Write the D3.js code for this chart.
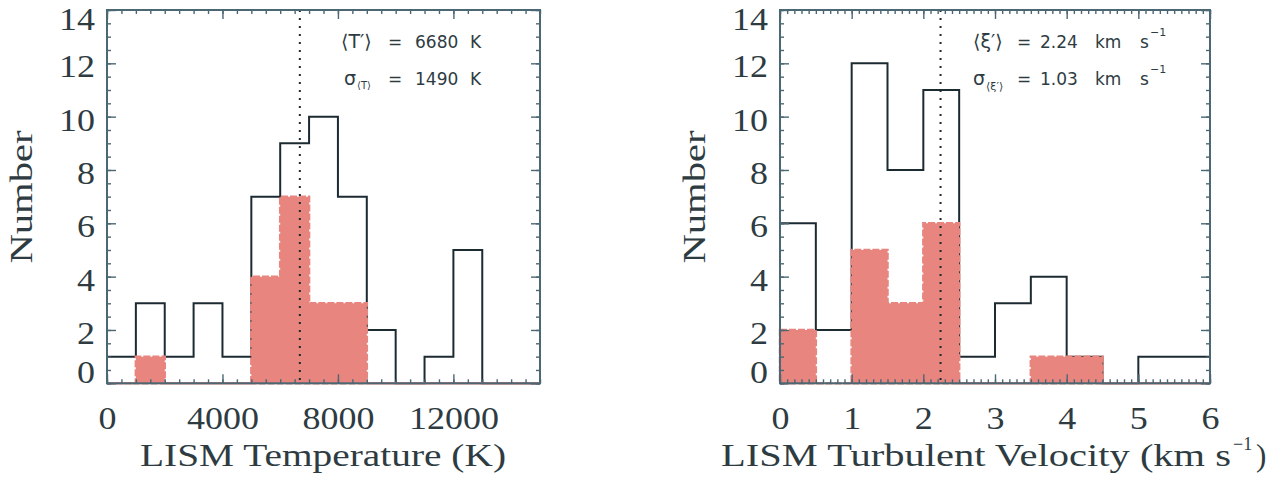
<!DOCTYPE html>
<html>
<head>
<meta charset="utf-8">
<script src="https://cdn.jsdelivr.net/npm/d3@7"></script>
<style>
  html, body { margin: 0; padding: 0; background: #fff; }
  svg { display: block; }
</style>
</head>
<body>
<svg id="chart" width="1278" height="478"></svg>
<script>
// ---------------- DATA ----------------
// Temperature histogram: bin starts (K), bin width 1000 K
const tempBinStarts = [0,1000,2000,3000,4000,5000,6000,7000,8000,9000,10000,11000,12000,13000,14000];
const tempAll      = [1, 3, 1, 3, 1, 7, 9, 10, 7, 2, 0, 1, 5, 0, 0];
const tempSel      = [0, 1, 0, 0, 0, 4, 7, 3, 3, 0, 0, 0, 0, 0, 0];
const tempMean = 6680;
const tempXTicks = [0, 4000, 8000, 12000];

// Turbulent velocity histogram: bin starts (km/s), bin width 0.5
const velBinStarts = [0,0.5,1,1.5,2,2.5,3,3.5,4,4.5,5,5.5];
const velAll       = [6, 2, 12, 8, 11, 1, 3, 4, 1, 0, 1, 1];
const velSel       = [2, 0, 5, 3, 6, 0, 0, 1, 1, 0, 0, 0];
const velMean = 2.24;
const velXTicks = [0, 1, 2, 3, 4, 5, 6];

const yTicks = [0, 2, 4, 6, 8, 10, 12, 14];

// ---------------- STYLE ----------------
const axisColor = "#4b6774";
const histColor = "#1c2a31";
const fillColor = "#e8857e";
const textColor = "#2e3c42";
const serif = "'Liberation Serif', serif";
const sans = "'DejaVu Sans', sans-serif";
const digitW = 18;

const svg = d3.select("#chart");
svg.append("rect").attr("width", 1278).attr("height", 478).attr("fill", "#fff");

function panel(cfg) {
  const x = d3.scaleLinear().domain(cfg.xDomain).range([cfg.left, cfg.right]);
  const y = d3.scaleLinear().domain([0, 14]).range([383.3, 10]);
  const g = svg.append("g");
  const bw = cfg.binWidth;

  // step line for all
  const ptsAll = cfg.starts.map((s, i) => [s, cfg.all[i]]);
  ptsAll.push([cfg.starts[cfg.starts.length - 1] + bw, cfg.all[cfg.all.length - 1]]);
  const line = d3.line().x(d => x(d[0])).y(d => y(d[1])).curve(d3.curveStepAfter);
  g.append("path").attr("d", line(ptsAll)).attr("fill", "none")
    .attr("stroke", histColor).attr("stroke-width", 2);

  // filled subset
  const ptsSel = cfg.starts.map((s, i) => [s, cfg.sel[i]]);
  ptsSel.push([cfg.starts[cfg.starts.length - 1] + bw, cfg.sel[cfg.sel.length - 1]]);
  const area = d3.area().x(d => x(d[0])).y0(y(0)).y1(d => y(d[1])).curve(d3.curveStepAfter);
  g.append("path").attr("d", area(ptsSel)).attr("fill", fillColor)
    .attr("stroke", fillColor).attr("stroke-width", 2.5).attr("stroke-dasharray", "7,2");

  // mean dotted line
  g.append("line").attr("x1", x(cfg.mean)).attr("x2", x(cfg.mean))
    .attr("y1", y(14)).attr("y2", y(0))
    .attr("stroke", histColor).attr("stroke-width", 2).attr("stroke-dasharray", "2,6");

  // ticks (all four sides)
  const tickGroup = (gen, scale, vals, len, tr) => {
    g.append("g").attr("transform", tr)
      .call(gen(scale).tickValues(vals).tickSize(-len).tickFormat(""))
      .call(s => s.select(".domain").remove())
      .call(s => s.selectAll("line").attr("stroke", axisColor).attr("stroke-width", 1.4));
  };
  const yMinor = d3.range(0, 14.01, 0.5);
  tickGroup(d3.axisBottom, x, cfg.xMinor, 4, `translate(0,${y(0)})`);
  tickGroup(d3.axisBottom, x, cfg.xTicks, 9, `translate(0,${y(0)})`);
  tickGroup(d3.axisTop, x, cfg.xMinor, 4, `translate(0,${y(14)})`);
  tickGroup(d3.axisTop, x, cfg.xTicks, 9, `translate(0,${y(14)})`);
  tickGroup(d3.axisLeft, y, yMinor, 4, `translate(${cfg.left},0)`);
  tickGroup(d3.axisLeft, y, yTicks, 9, `translate(${cfg.left},0)`);
  tickGroup(d3.axisRight, y, yMinor, 4, `translate(${cfg.right},0)`);
  tickGroup(d3.axisRight, y, yTicks, 9, `translate(${cfg.right},0)`);

  // frame
  g.append("rect").attr("x", cfg.left).attr("y", y(14))
    .attr("width", cfg.right - cfg.left).attr("height", y(0) - y(14))
    .attr("fill", "none").attr("stroke", axisColor).attr("stroke-width", 2);

  const fmt = d3.format("d");
  // x tick labels
  g.append("g").attr("transform", `translate(0,${y(0)})`)
    .call(d3.axisBottom(x).tickValues(cfg.xTicks).tickSize(0).tickPadding(0).tickFormat(fmt))
    .call(s => s.select(".domain").remove())
    .call(s => s.selectAll("text").attr("dy", null).attr("y", 46)
      .attr("font-family", serif).attr("font-size", 31).attr("fill", textColor)
      .attr("textLength", d => fmt(d).length * digitW).attr("lengthAdjust", "spacingAndGlyphs"));

  // y tick labels (clamped inside frame like the original)
  g.append("g").attr("transform", `translate(${cfg.left},0)`)
    .call(d3.axisLeft(y).tickValues(yTicks).tickSize(0).tickPadding(12).tickFormat(fmt))
    .call(s => s.select(".domain").remove())
    .call(s => s.selectAll(".tick").attr("transform", d => {
        const yy = Math.min(Math.max(y(d) + 3.5, y(14) + 9), y(0) - 11);
        return `translate(0,${yy})`;
      }))
    .call(s => s.selectAll("text").attr("font-family", serif).attr("font-size", 31)
      .attr("fill", textColor).attr("dy", "0.34em")
      .attr("textLength", d => fmt(d).length * digitW).attr("lengthAdjust", "spacingAndGlyphs"));

  // y title
  g.append("text").attr("transform", `translate(${cfg.left - 86},${197}) rotate(-90)`)
    .attr("text-anchor", "middle").attr("font-family", serif).attr("font-size", 31)
    .attr("fill", textColor).attr("textLength", 133).attr("lengthAdjust", "spacingAndGlyphs")
    .attr("dy", "0.34em").text("Number");

  return { x, y, g };
}

// ---------- Left panel ----------
const L = panel({
  left: 107, right: 540, xDomain: [0, 15000], binWidth: 1000,
  starts: tempBinStarts, all: tempAll, sel: tempSel, mean: tempMean,
  xTicks: tempXTicks, xMinor: d3.range(0, 15001, 500)
});
L.g.append("text").attr("x", 140).attr("y", 466)
  .attr("font-family", serif).attr("font-size", 31).attr("fill", textColor)
  .attr("textLength", 366).attr("lengthAdjust", "spacingAndGlyphs")
  .text("LISM Temperature (K)");

function annot(g, x0, yb, parts) {
  const t = g.append("text").attr("font-family", sans).attr("font-size", 17).attr("fill", textColor);
  parts.forEach(p => {
    t.append("tspan").attr("x", x0 + p.dx).attr("y", yb + (p.dy || 0))
      .attr("font-size", p.size || 17).text(p.t);
  });
}
annot(L.g, 341, 48, [
  {t: "\u27E8T\u2032\u27E9", dx: 0, size: 19}, {t: "=", dx: 47}, {t: "6680", dx: 74}, {t: "K", dx: 129}
]);
annot(L.g, 341, 85, [
  {t: "\u03C3", dx: 3, size: 19}, {t: "\u27E8T\u27E9", dx: 16, dy: 4, size: 10}, {t: "=", dx: 47}, {t: "1490", dx: 74}, {t: "K", dx: 129}
]);

// ---------- Right panel ----------
const R = panel({
  left: 780, right: 1210, xDomain: [0, 6], binWidth: 0.5,
  starts: velBinStarts, all: velAll, sel: velSel, mean: velMean,
  xTicks: velXTicks, xMinor: d3.range(0, 6.001, 0.1)
});
const rt = R.g.append("text").attr("y", 466).attr("font-family", serif)
  .attr("font-size", 31).attr("fill", textColor);
rt.append("tspan").attr("x", 721).attr("textLength", 510).attr("lengthAdjust", "spacingAndGlyphs")
  .text("LISM Turbulent Velocity (km s");
rt.append("tspan").attr("x", 1233).attr("y", 450).attr("font-size", 18).text("\u22121");
rt.append("tspan").attr("x", 1256).attr("y", 466).text(")");

annot(R.g, 973, 48, [
  {t: "\u27E8\u03BE\u2032\u27E9", dx: 0, size: 19}, {t: "=", dx: 44}, {t: "2.24", dx: 67}, {t: "km", dx: 122},
  {t: "s", dx: 167}, {t: "\u22121", dx: 177, dy: -12, size: 11}
]);
annot(R.g, 973, 85, [
  {t: "\u03C3", dx: 0, size: 19}, {t: "\u27E8\u03BE\u2032\u27E9", dx: 13, dy: 5, size: 11}, {t: "=", dx: 44}, {t: "1.03", dx: 67}, {t: "km", dx: 122},
  {t: "s", dx: 167}, {t: "\u22121", dx: 177, dy: -12, size: 11}
]);
</script>
</body>
</html>
